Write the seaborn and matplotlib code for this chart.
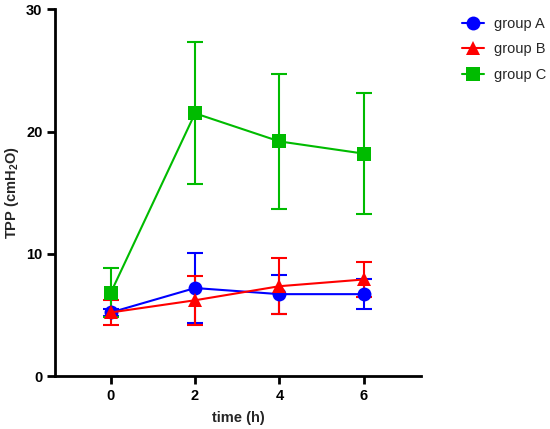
import matplotlib
matplotlib.use('Agg')
import matplotlib.pyplot as plt
from matplotlib.lines import Line2D
import seaborn as sns
import pandas as pd

# data
time_h = [0, 2, 4, 6]
groups = ['group A', 'group B', 'group C']
group_a = [5.2, 7.2, 6.7, 6.7]
group_a_err = [0.3, 2.9, 1.6, 1.2]
group_b = [5.2, 6.2, 7.35, 7.9]
group_b_err = [1.0, 2.0, 2.3, 1.45]
group_c = [6.8, 21.5, 19.2, 18.2]
group_c_err = [2.0, 5.8, 5.5, 4.95]

colors = {'group A': '#0000ff', 'group B': '#ff0000', 'group C': '#00bb00'}
markers = {'group A': 'o', 'group B': '^', 'group C': 's'}

df = pd.DataFrame({
    'time': time_h * 3,
    'TPP': group_a + group_b + group_c,
    'err': group_a_err + group_b_err + group_c_err,
    'group': [g for g in groups for _ in time_h],
})

sns.set_style('ticks')
plt.rcParams['font.family'] = ['Liberation Sans', 'DejaVu Sans']
plt.rcParams['mathtext.fontset'] = 'custom'
plt.rcParams['mathtext.rm'] = 'Liberation Sans:bold'
plt.rcParams['mathtext.bf'] = 'Liberation Sans:bold'

fig = plt.figure(figsize=(5.5, 4.29), dpi=100)
ax = fig.add_axes([0.1, 0.1235, 0.665, 0.8545])

for g in groups:
    d = df[df['group'] == g]
    ax.errorbar(d['time'], d['TPP'], yerr=d['err'], fmt='none',
                ecolor=colors[g], elinewidth=1.5, capsize=6, capthick=1.5, zorder=2)
    sns.lineplot(data=d, x='time', y='TPP', color=colors[g], marker=markers[g],
                 markersize=10, markeredgewidth=0, linewidth=1.5, ax=ax,
                 legend=False, zorder=3)

ax.set_xlim(-1.32, 7.35)
ax.set_ylim(0, 30)
ax.set_xticks(time_h)
ax.set_yticks([0, 10, 20, 30])
for s in ['top', 'right']:
    ax.spines[s].set_visible(False)
for s in ['left', 'bottom']:
    ax.spines[s].set_linewidth(2)
    ax.spines[s].set_color('black')
ax.tick_params(width=2, length=6, labelsize=10.5, colors='black', pad=3)
for lab in ax.get_xticklabels() + ax.get_yticklabels():
    lab.set_fontweight('bold')
ax.set_xlabel('time (h)', fontsize=10.5, fontweight='bold', labelpad=6)
ax.set_ylabel(r'TPP (cmH$_2$O)', fontsize=10.5, fontweight='bold', labelpad=4)

handles = [Line2D([0], [0], color=colors[g], marker=markers[g], markersize=10,
                  markeredgewidth=0, linewidth=1.5) for g in groups]
fig.legend(handles, groups, loc='upper left', bbox_to_anchor=(0.84, 0.961),
           frameon=False, fontsize=10.5, handlelength=1.5, labelspacing=0.8,
           handletextpad=0.7, borderpad=0, borderaxespad=0)

fig.savefig('out.png', dpi=100)
